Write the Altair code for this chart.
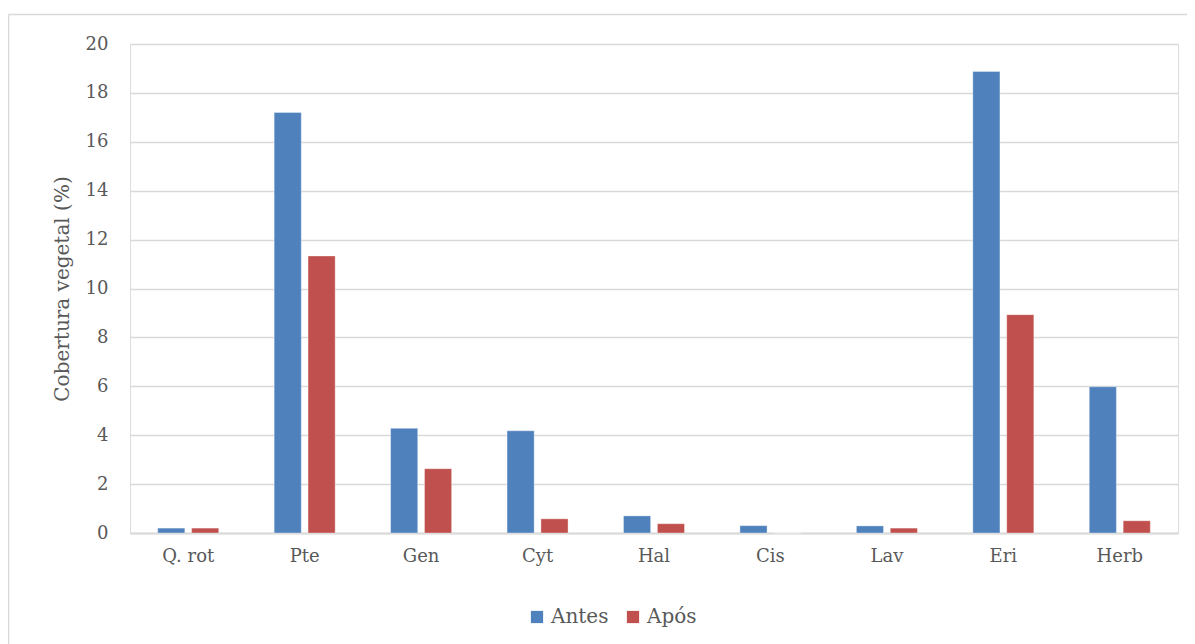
import altair as alt
import pandas as pd

categories = ["Q. rot", "Pte", "Gen", "Cyt", "Hal", "Cis", "Lav", "Eri", "Herb"]
antes = [0.2, 17.2, 4.28, 4.18, 0.7, 0.3, 0.29, 18.88, 5.98]
apos = [0.2, 11.33, 2.63, 0.58, 0.38, 0.0, 0.2, 8.93, 0.5]
series = ["Antes", "Após"]
colors = ["#4F81BD", "#C0504D"]

rows = []
for c, a, b in zip(categories, antes, apos):
    rows.append({"cat": c, "serie": series[0], "valor": a})
    rows.append({"cat": c, "serie": series[1], "valor": b})
df = pd.DataFrame(rows)

FONT = "DejaVu Serif"
GREY = "#595959"
LINE = "#d9d9d9"

bars = alt.Chart(df).mark_bar(stroke="#ffffff", strokeOpacity=0.35, strokeWidth=1).encode(
    x=alt.X("cat:N", sort=categories,
            scale=alt.Scale(paddingInner=0.476, paddingOuter=0.238),
            axis=alt.Axis(title=None, labelAngle=0, ticks=False, labelPadding=14,
                          labelFont=FONT, labelFontSize=18, labelColor=GREY,
                          domainColor=LINE, domainWidth=2, grid=False)),
    xOffset=alt.XOffset("serie:N", sort=series,
                        scale=alt.Scale(paddingInner=0.2, paddingOuter=0)),
    y=alt.Y("valor:Q", scale=alt.Scale(domain=[0, 20], nice=False),
            axis=alt.Axis(title="Cobertura vegetal (%)", values=list(range(0, 21, 2)),
                          ticks=False, domain=False, labelPadding=22,
                          labelFont=FONT, labelFontSize=18, labelColor=GREY,
                          titleFont=FONT, titleFontSize=20, titleFontWeight="normal",
                          titleColor=GREY, titleBaseline="middle", titleX=-68, titleY=244.5,
                          titleAngle=270,
                          gridColor=LINE, gridWidth=1.5)),
    color=alt.Color("serie:N", sort=series,
                    scale=alt.Scale(domain=series, range=colors),
                    legend=alt.Legend(title=None, orient="none", direction="horizontal",
                                      legendX=397, legendY=563,
                                      symbolType="square", symbolSize=150,
                                      symbolStrokeWidth=0, symbolOpacity=1,
                                      labelFont=FONT, labelFontSize=20, labelColor=GREY,
                                      labelOffset=4, columnPadding=14)),
)

frame_df = pd.DataFrame({"k": [0]})
frame_top = alt.Chart(frame_df).mark_rule(stroke=LINE, strokeWidth=1.5).encode(
    x=alt.value(-121.5), x2=alt.value(1100), y=alt.value(-29.5),
)
frame_left = alt.Chart(frame_df).mark_rule(stroke=LINE, strokeWidth=1.5).encode(
    x=alt.value(-121.5), y=alt.value(-29.5), y2=alt.value(700),
)

chart = alt.layer(frame_top, frame_left, bars).properties(
    width=1048, height=489,
    autosize=alt.AutoSizeParams(type="none"),
    padding={"left": 122, "top": 36, "right": 9, "bottom": 111},
).configure_view(stroke=None).configure(background="white")

chart.save("out.html", embed_options={"renderer": "svg", "actions": False})
